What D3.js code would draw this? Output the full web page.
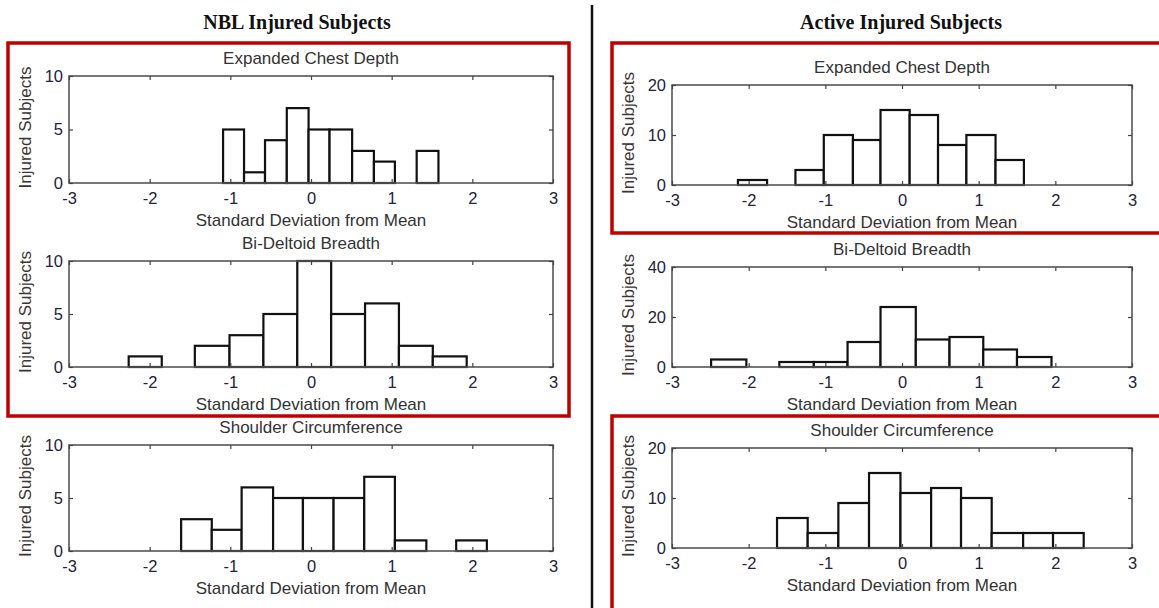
<!DOCTYPE html>
<html>
<head>
<meta charset="utf-8">
<script src="https://cdn.jsdelivr.net/npm/d3@7"></script>
<style>
  body { margin: 0; background: #fff; }
  svg { display: block; }
  .tick-label { font-family: "Liberation Sans", Arial, sans-serif; font-size: 16.5px; fill: #23233a; }
  .panel-title, .axis-title { font-family: "Liberation Sans", Arial, sans-serif; font-size: 17px; fill: #333; }
  .group-title { font-family: "Liberation Serif", serif; font-weight: bold; font-size: 20px; fill: #111; }
</style>
</head>
<body>
<svg id="chart" width="1159" height="608"></svg>
<script>
// bin edges (std dev from mean) and counts
const nblChestEdges = [-1.09, -0.83, -0.57, -0.30, -0.03, 0.23, 0.51, 0.78, 1.04, 1.31, 1.58];
const nblChestCounts = [5, 1, 4, 7, 5, 5, 3, 2, 0, 3];
const nblDeltoidEdges = [-2.26, -1.85, -1.44, -1.01, -0.59, -0.17, 0.25, 0.67, 1.09, 1.51, 1.93];
const nblDeltoidCounts = [1, 0, 2, 3, 5, 10, 5, 6, 2, 1];
const nblShoulderEdges = [-1.61, -1.23, -0.86, -0.47, -0.10, 0.28, 0.66, 1.04, 1.43, 1.80, 2.18];
const nblShoulderCounts = [3, 2, 6, 5, 5, 5, 7, 1, 0, 1];

const actChestEdges = [-2.14, -1.76, -1.39, -1.02, -0.64, -0.28, 0.10, 0.47, 0.84, 1.22, 1.59];
const actChestCounts = [1, 0, 3, 10, 9, 15, 14, 8, 10, 5];
const actDeltoidEdges = [-2.49, -2.03, -1.60, -1.15, -0.71, -0.28, 0.18, 0.62, 1.06, 1.50, 1.95];
const actDeltoidCounts = [3, 0, 2, 2, 10, 24, 11, 12, 7, 4];
const actShoulderEdges = [-1.63, -1.23, -0.83, -0.43, -0.02, 0.38, 0.77, 1.17, 1.58, 1.97, 2.37];
const actShoulderCounts = [6, 3, 9, 15, 11, 12, 10, 3, 3, 3];

const xTicks = [-3, -2, -1, 0, 1, 2, 3];
const yTicks10 = [0, 5, 10];
const yTicks20 = [0, 10, 20];
const yTicks40 = [0, 20, 40];

const groupTitles = ['NBL Injured Subjects', 'Active Injured Subjects'];
const xTitle = 'Standard Deviation from Mean';
const yTitle = 'Injured Subjects';

const svg = d3.select('#chart');
const plain = d => String(d); // hyphen minus like the original, no decimals

const panels = [
  { title: 'Expanded Chest Depth', edges: nblChestEdges, counts: nblChestCounts, yTicks: yTicks10, l: 69, r: 553, t: 76, b: 183 },
  { title: 'Bi-Deltoid Breadth', edges: nblDeltoidEdges, counts: nblDeltoidCounts, yTicks: yTicks10, l: 69, r: 553, t: 261, b: 367 },
  { title: 'Shoulder Circumference', edges: nblShoulderEdges, counts: nblShoulderCounts, yTicks: yTicks10, l: 69, r: 553, t: 445, b: 551 },
  { title: 'Expanded Chest Depth', edges: actChestEdges, counts: actChestCounts, yTicks: yTicks20, l: 672, r: 1132, t: 85, b: 185 },
  { title: 'Bi-Deltoid Breadth', edges: actDeltoidEdges, counts: actDeltoidCounts, yTicks: yTicks40, l: 672, r: 1132, t: 267, b: 367 },
  { title: 'Shoulder Circumference', edges: actShoulderEdges, counts: actShoulderCounts, yTicks: yTicks20, l: 672, r: 1132, t: 448, b: 548 }
];

panels.forEach(p => {
  const x = d3.scaleLinear().domain([-3, 3]).range([p.l, p.r]);
  const y = d3.scaleLinear().domain(d3.extent(p.yTicks)).range([p.b, p.t]);
  const g = svg.append('g');
  const bins = p.counts.map((c, i) => ({ x0: p.edges[i], x1: p.edges[i + 1], c }))
    .filter(d => d.c > 0);

  g.selectAll('rect.bar')
    .data(bins)
    .enter()
    .append('rect')
    .attr('class', 'bar')
    .attr('x', d => x(d.x0))
    .attr('y', d => y(d.c))
    .attr('width', d => x(d.x1) - x(d.x0))
    .attr('height', d => y(0) - y(d.c))
    .attr('fill', '#fff')
    .attr('stroke', '#111')
    .attr('stroke-width', 2.2);

  // frame with inward ticks on all four sides (matlab style)
  g.append('rect')
    .attr('x', p.l).attr('y', p.t)
    .attr('width', p.r - p.l).attr('height', p.b - p.t)
    .attr('fill', 'none').attr('stroke', '#555').attr('stroke-width', 1.6);

  const bottom = d3.axisBottom(x).tickValues(xTicks).tickFormat(plain).tickSizeInner(-4).tickSizeOuter(0).tickPadding(9);
  const topAx = d3.axisTop(x).tickValues(xTicks).tickSizeInner(-4).tickSizeOuter(0).tickFormat('');
  const left = d3.axisLeft(y).tickValues(p.yTicks).tickFormat(plain).tickSizeInner(-4).tickSizeOuter(0).tickPadding(6);
  const right = d3.axisRight(y).tickValues(p.yTicks).tickSizeInner(-4).tickSizeOuter(0).tickFormat('');

  [[bottom, `translate(0,${p.b})`], [topAx, `translate(0,${p.t})`],
   [left, `translate(${p.l},0)`], [right, `translate(${p.r},0)`]].forEach(([ax, tr]) => {
    const a = g.append('g').attr('transform', tr).call(ax);
    a.select('.domain').remove();
    a.selectAll('line').attr('stroke', '#444').attr('stroke-width', 1.2);
    a.selectAll('text').attr('class', 'tick-label').attr('font-size', null).attr('font-family', null).attr('fill', null);
  });

  g.append('text').attr('class', 'panel-title')
    .attr('x', (p.l + p.r) / 2).attr('y', p.t - 12)
    .attr('text-anchor', 'middle').text(p.title);
  g.append('text').attr('class', 'axis-title')
    .attr('x', (p.l + p.r) / 2).attr('y', p.b + 43)
    .attr('text-anchor', 'middle').text(xTitle);
  g.append('text').attr('class', 'axis-title')
    .attr('transform', `translate(${p.l - 38},${(p.t + p.b) / 2 - 2}) rotate(-90)`)
    .attr('text-anchor', 'middle').text(yTitle)
    .style('fill', '#3d3434');
});

// group titles, divider and red highlight boxes
svg.selectAll('text.group-title')
  .data(groupTitles)
  .enter()
  .append('text')
  .attr('class', 'group-title')
  .attr('x', (d, i) => [297, 901][i])
  .attr('y', 29)
  .attr('text-anchor', 'middle')
  .text(d => d);

svg.append('line')
  .attr('x1', 592).attr('x2', 592).attr('y1', 5).attr('y2', 608)
  .attr('stroke', '#111').attr('stroke-width', 2.5);

const boxes = [[8, 43, 561, 373], [612, 43, 560, 190], [612, 416, 560, 210]];
svg.selectAll('rect.hl')
  .data(boxes)
  .enter()
  .append('rect')
  .attr('class', 'hl')
  .attr('x', d => d[0]).attr('y', d => d[1])
  .attr('width', d => d[2]).attr('height', d => d[3])
  .attr('fill', 'none')
  .attr('stroke', '#c00000')
  .attr('stroke-width', 3.5);
</script>
</body>
</html>
